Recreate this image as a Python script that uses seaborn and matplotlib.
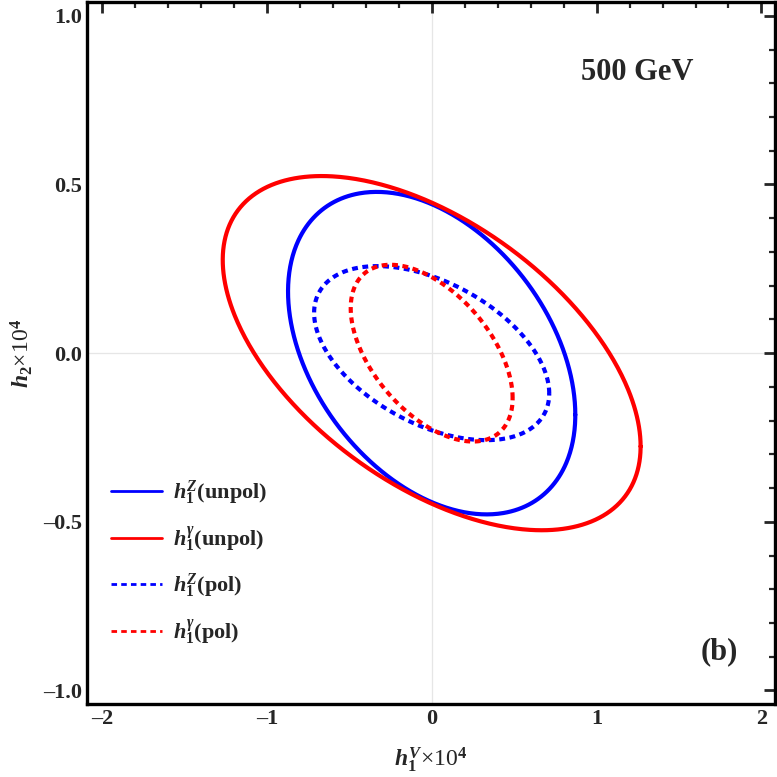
import numpy as np
import pandas as pd
import seaborn as sns
import matplotlib.pyplot as plt
from matplotlib.lines import Line2D
from matplotlib.ticker import MultipleLocator, FuncFormatter

# contornos (elipses centradas na origem)
# largura maxima em x, altura maxima em y, e o x onde a curva atinge o topo
curvas = ['Z_unpol', 'g_unpol', 'Z_pol', 'g_pol']
x_max = [0.871, 1.267, 0.713, 0.491]
y_max = [0.478, 0.525, 0.258, 0.262]
x_no_topo = [-0.333, -0.667, -0.33, -0.25]

rotulos = [r'$h_1^Z$(unpol)', r'$h_1^{\gamma}$(unpol)', r'$h_1^Z$(pol)', r'$h_1^{\gamma}$(pol)']
cores = ['#0000ff', '#ff0000', '#0000ff', '#ff0000']
tracos = ['-', '-', '--', '--']

sns.set_style('white')
plt.rcParams['font.family'] = ['Liberation Serif', 'DejaVu Serif']
plt.rcParams['font.weight'] = 'bold'
plt.rcParams['mathtext.fontset'] = 'custom'
plt.rcParams['mathtext.rm'] = 'Liberation Serif:bold'
plt.rcParams['mathtext.bf'] = 'Liberation Serif:bold'
plt.rcParams['mathtext.it'] = 'Liberation Serif:italic:bold'

# monta a tabela de pontos de cada contorno
t = np.linspace(0, 2 * np.pi, 600)
linhas = []
for nome, a, b, xt in zip(curvas, x_max, y_max, x_no_topo):
    c = xt * b
    x = a * np.cos(t)
    y = c / a * np.cos(t) + np.sqrt(b**2 - c**2 / a**2) * np.sin(t)
    linhas.append(pd.DataFrame({'x': x, 'y': y, 'curva': nome}))
tabela = pd.concat(linhas, ignore_index=True)

fig = plt.figure(figsize=(7.77, 7.77), dpi=100)
ax = fig.add_axes([0.112, 0.094, 0.885, 0.903])

ax.axhline(0, color='#e6e6e6', lw=0.9, zorder=0)
ax.axvline(0, color='#e6e6e6', lw=0.9, zorder=0)

for nome, cor, tr in zip(curvas, cores, tracos):
    sub = tabela[tabela['curva'] == nome]
    sns.lineplot(data=sub, x='x', y='y', sort=False, estimator=None, color=cor,
                 lw=3.0, ax=ax, legend=False)
    if tr == '--':
        ax.lines[-1].set_linestyle((0, (1.4, 1.1)))

ax.set_xlim(-2.09, 2.08)
ax.set_ylim(-1.04, 1.04)

# sinal de menos largo como no original
def fmt_x(v, pos):
    return ('%d' % round(v)).replace('-', '\u2013')

def fmt_y(v, pos):
    s = '%.1f' % v
    if s == '-0.0':
        s = '0.0'
    return s.replace('-', '\u2013')

ax.xaxis.set_major_locator(MultipleLocator(1))
ax.xaxis.set_minor_locator(MultipleLocator(0.2))
ax.yaxis.set_major_locator(MultipleLocator(0.5))
ax.yaxis.set_minor_locator(MultipleLocator(0.1))
ax.xaxis.set_major_formatter(FuncFormatter(fmt_x))
ax.yaxis.set_major_formatter(FuncFormatter(fmt_y))
ax.tick_params(which='both', direction='in', top=True, right=True, labelsize=16)
ax.tick_params(which='major', length=8, width=2)
ax.tick_params(which='minor', length=4, width=1.6)
for s in ax.spines.values():
    s.set_linewidth(2.4)
    s.set_color('black')

ax.set_xlabel(r'$h_1^V$×10$^4$', fontsize=17, labelpad=12)
ax.set_ylabel(r'$h_2$×10$^4$', fontsize=17, labelpad=6)

ax.text(0.80, 0.90, '500 GeV', transform=ax.transAxes, fontsize=22,
        ha='center', va='center', fontweight='bold')
ax.text(0.92, 0.074, '(b)', transform=ax.transAxes, fontsize=22,
        ha='center', va='center', fontweight='bold')

handles = [Line2D([], [], color=c, lw=2.0,
                  linestyle='-' if tr == '-' else (0, (2, 1.5)))
           for c, tr in zip(cores, tracos)]
ax.legend(handles, rotulos, loc='upper left', bbox_to_anchor=(0.018, 0.338),
          frameon=False, fontsize=16, handlelength=2.3, handletextpad=0.5,
          labelspacing=0.8, borderpad=0)

fig.savefig('out.png', dpi=100)
